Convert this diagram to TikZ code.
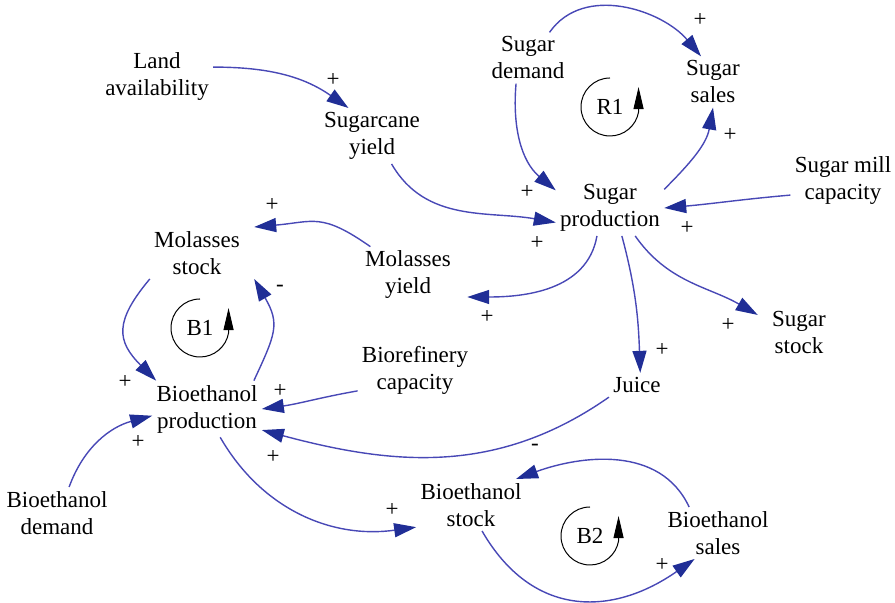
\documentclass[tikz,border=0pt]{standalone}
\usepackage{fontspec}
\setmainfont{Liberation Serif}
\usetikzlibrary{arrows.meta, positioning}
\definecolor{linkcolor}{RGB}{72,72,182}
\definecolor{headcolor}{RGB}{32,46,150}
\tikzstyle{factor} = [rectangle, align=center, inner sep=2pt, font=\fontsize{11.5}{13.5}\selectfont]
\tikzstyle{polarity} = [inner sep=0pt, font=\fontsize{11.5}{13.5}\selectfont]
\tikzstyle{link} = [draw=linkcolor, line width=0.7pt, -{Triangle[length=11pt, width=7pt, color=headcolor]}]
\tikzstyle{loopmark} = [black, line width=0.5pt, -{Triangle[length=11pt, width=5pt]}]

\begin{document}
\begin{tikzpicture}[x=0.5pt, y=0.5pt]
\useasboundingbox (0,0) rectangle (895,603);

% Sugar side
\node (land) [factor] at (157,526) {Land\\availability};
\node (cane) [factor] at (372,467) {Sugarcane\\yield};
\node (sdem) [factor] at (528,545) {Sugar\\demand};
\node (ssal) [factor] at (713,521) {Sugar\\sales};
\node (sprod) [factor] at (610,395) {Sugar\\production};
\node (smill) [factor] at (843,422) {Sugar mill\\capacity};
\node (sstock) [factor] at (799,270) {Sugar\\stock};
\node (juice) [factor] at (637,218) {Juice};

% Molasses and bioethanol side
\node (mstock) [factor] at (197,350) {Molasses\\stock};
\node (myield) [factor] at (408,328) {Molasses\\yield};
\node (bcap) [factor] at (415,233) {Biorefinery\\capacity};
\node (bprod) [factor] at (207,194) {Bioethanol\\production};
\node (bdem) [factor] at (57,90) {Bioethanol\\demand};
\node (bstock) [factor] at (471,98) {Bioethanol\\stock};
\node (bsales) [factor] at (718,70) {Bioethanol\\sales};

% Loop markers
\node (r1) [factor] at (610,496) {R1};
\node (b1) [factor] at (200,275) {B1};
\node (b2) [factor] at (590,67) {B2};
\draw [loopmark] ([shift={(0,29)}]r1.center) arc[start angle=90, end angle=350, radius=29] -- ++(0,25);
\draw [loopmark] ([shift={(0,29)}]b1.center) arc[start angle=90, end angle=350, radius=29] -- ++(0,25);
\draw [loopmark] ([shift={(0,29)}]b2.center) arc[start angle=90, end angle=350, radius=29] -- ++(0,25);

% Links
\draw [link] (land.10) to[out=0, in=145] (cane.130);
\draw [link] (cane.-55) to[out=-60, in=170] (sprod.195);
\draw [link] (sdem.50) to[out=55, in=130] (ssal.115);
\draw [link] (sdem.-115) to[out=-95, in=140] (sprod.162);
\draw [link] (sprod.19) to[out=45, in=-100] (ssal.south);
\draw [link] (smill.195) to[out=185, in=5] (sprod.east);
\draw [link] (myield.143) to[out=145, in=5, looseness=1.3] ([xshift=5pt]mstock.north east);
\draw [link] (sprod.-115) to[out=-100, in=0] ([xshift=6pt]myield.-25);
\draw [link] (sprod.-48) to[out=-55, in=150] ([xshift=-5pt]sstock.150);
\draw [link] (sprod.-67) to[out=-75, in=92] (juice.75);
\draw [link] (mstock.south west) to[out=-130, in=135, looseness=1.4] ([xshift=2pt]bprod.north west);
\draw [link] ([xshift=-4pt]bprod.north east) to[out=65, in=-60, looseness=1.3] ([xshift=5pt]mstock.south east);
\draw [link] (bcap.-160) to[out=-170, in=8] (bprod.east);
\draw [link] (juice.south west) to[out=-145, in=-15] (bprod.-21);
\draw [link] (bdem.65) to[out=70, in=195] (bprod.187);
\draw [link] (bprod.-65) to[out=-60, in=188] (bstock.-158);
\draw [link] (bsales.138) to[out=115, in=20] (bstock.30);
\draw [link] (bstock.-67) to[out=-60, in=-145, looseness=1.2] (bsales.-132);

% Polarities
\node (p1) [polarity] at (333,523) {+};
\node (p2) [polarity] at (700,583) {+};
\node (p3) [polarity] at (527,411) {+};
\node (p4) [polarity] at (537,360) {+};
\node (p5) [polarity] at (730,468) {+};
\node (p6) [polarity] at (687,375) {+};
\node (p7) [polarity] at (272,398) {+};
\node (p8) [polarity] at (487,286) {+};
\node (p9) [polarity] at (728,278) {+};
\node (p10) [polarity] at (662,253) {+};
\node (m1) [polarity] at (280,315) {-};
\node (p11) [polarity] at (125,221) {+};
\node (p12) [polarity] at (280,212) {+};
\node (p13) [polarity] at (273,146) {+};
\node (p14) [polarity] at (138,161) {+};
\node (p15) [polarity] at (392,93) {+};
\node (m2) [polarity] at (535,156) {-};
\node (p16) [polarity] at (662,38) {+};

\end{tikzpicture}
\end{document}
